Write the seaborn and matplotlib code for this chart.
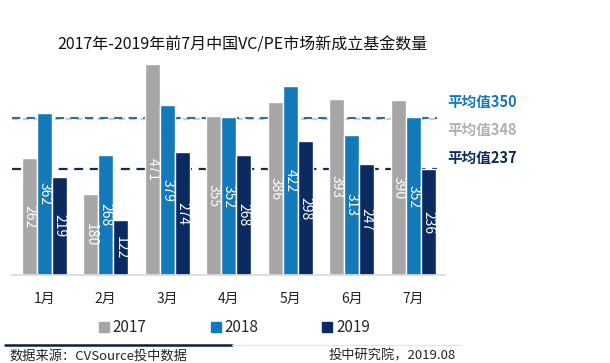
import numpy as np
import pandas as pd
import matplotlib
matplotlib.use('Agg')
import matplotlib.pyplot as plt
from matplotlib.lines import Line2D
import seaborn as sns

months = ['1月', '2月', '3月', '4月', '5月', '6月', '7月']
years = ['2017', '2018', '2019']
v2017 = [262, 180, 471, 355, 386, 393, 390]
v2018 = [362, 268, 379, 352, 422, 313, 352]
v2019 = [219, 122, 274, 268, 298, 247, 236]
avg_vals = [350, 348, 237]
avg_years = ['2018', '2017', '2019']
COLORS = {'2017': '#a6a6a6', '2018': '#1479b8', '2019': '#0b2a5f'}
LINE_COLORS = {'2018': '#2c6e9c', '2017': '#bdbdbd', '2019': '#0b2a5f'}
TEXT_COLORS = {'2018': '#1479b8', '2017': '#b0b0b0', '2019': '#0b2a5f'}

df = pd.DataFrame({'month': months * 3,
                   'year': [y for y in years for _ in months],
                   'count': v2017 + v2018 + v2019})

sns.set_theme(style='white')
plt.rcParams['font.family'] = ['Noto Sans CJK SC', 'DejaVu Sans']

fig = plt.figure(figsize=(6.1, 3.63), dpi=100)
ax = fig.add_axes([0.02, 0.2424, 0.71, 0.5926])
sns.barplot(data=df, x='month', y='count', hue='year', order=months, hue_order=years,
            palette=COLORS, width=0.73, saturation=1, legend=False, ax=ax, zorder=2)
for cont in ax.containers:
    ax.bar_label(cont, label_type='center', rotation=270, color='white', fontsize=10, zorder=4)

ax.set_ylim(0, 480)
ax.set_xlim(-0.52, 6.52)
ax.set_xlabel(''); ax.set_ylabel('')
ax.set_yticks([])
for s in ['top', 'right', 'left']:
    ax.spines[s].set_visible(False)
ax.spines['bottom'].set_color('#d9d9d9')
ax.tick_params(axis='x', which='major', length=0, labelsize=10, pad=12, colors='#222222')
ax.set_xticks(np.arange(-0.5, 7, 1), minor=True)
ax.tick_params(axis='x', which='minor', length=9, color='#e3e3e3', width=0.8, direction='out')

# average lines, drawn behind the bars
widths = {'2018': 1.5, '2017': 1.1, '2019': 1.6}
zs = {'2018': 1.2, '2017': 1.1, '2019': 1.2}
for v, y in zip(avg_vals, avg_years):
    ax.axhline(v, color=LINE_COLORS[y], xmax=0.98, linestyle=(0, (4, 3)),
               lw=widths[y], zorder=zs[y])
label_y = {'2018': 0.718, '2017': 0.641, '2019': 0.566}
for v, y in zip(avg_vals, avg_years):
    fig.text(0.733, label_y[y], f'平均值{v}', fontsize=10.5, fontweight='bold',
             color=TEXT_COLORS[y], va='center', ha='left')

fig.text(0.398, 0.876, '2017年-2019年前7月中国VC/PE市场新成立基金数量', fontsize=11.5,
         ha='center', va='center', color='#111111')

handles = [Line2D([], [], marker='s', linestyle='', markersize=7, color=COLORS[y]) for y in years]
fig.legend(handles, years, loc='center', bbox_to_anchor=(0.385, 0.097), ncol=3, frameon=False,
           fontsize=11, handlelength=0.6, handletextpad=0.3, columnspacing=4.2)

fig.add_artist(Line2D([0.008, 0.38], [0.049, 0.049], color='#0b1f3f', lw=1.8, transform=fig.transFigure))
fig.add_artist(Line2D([0.38, 0.755], [0.049, 0.049], color='#e6e6e6', lw=1.0, transform=fig.transFigure))
fig.text(0.016, 0.020, '数据来源：CVSource投中数据', fontsize=9.5, ha='left', va='center', color='#222222')
fig.text(0.748, 0.020, '投中研究院，2019.08', fontsize=9.5, ha='right', va='center', color='#222222')

fig.savefig('out.png', dpi=100)
